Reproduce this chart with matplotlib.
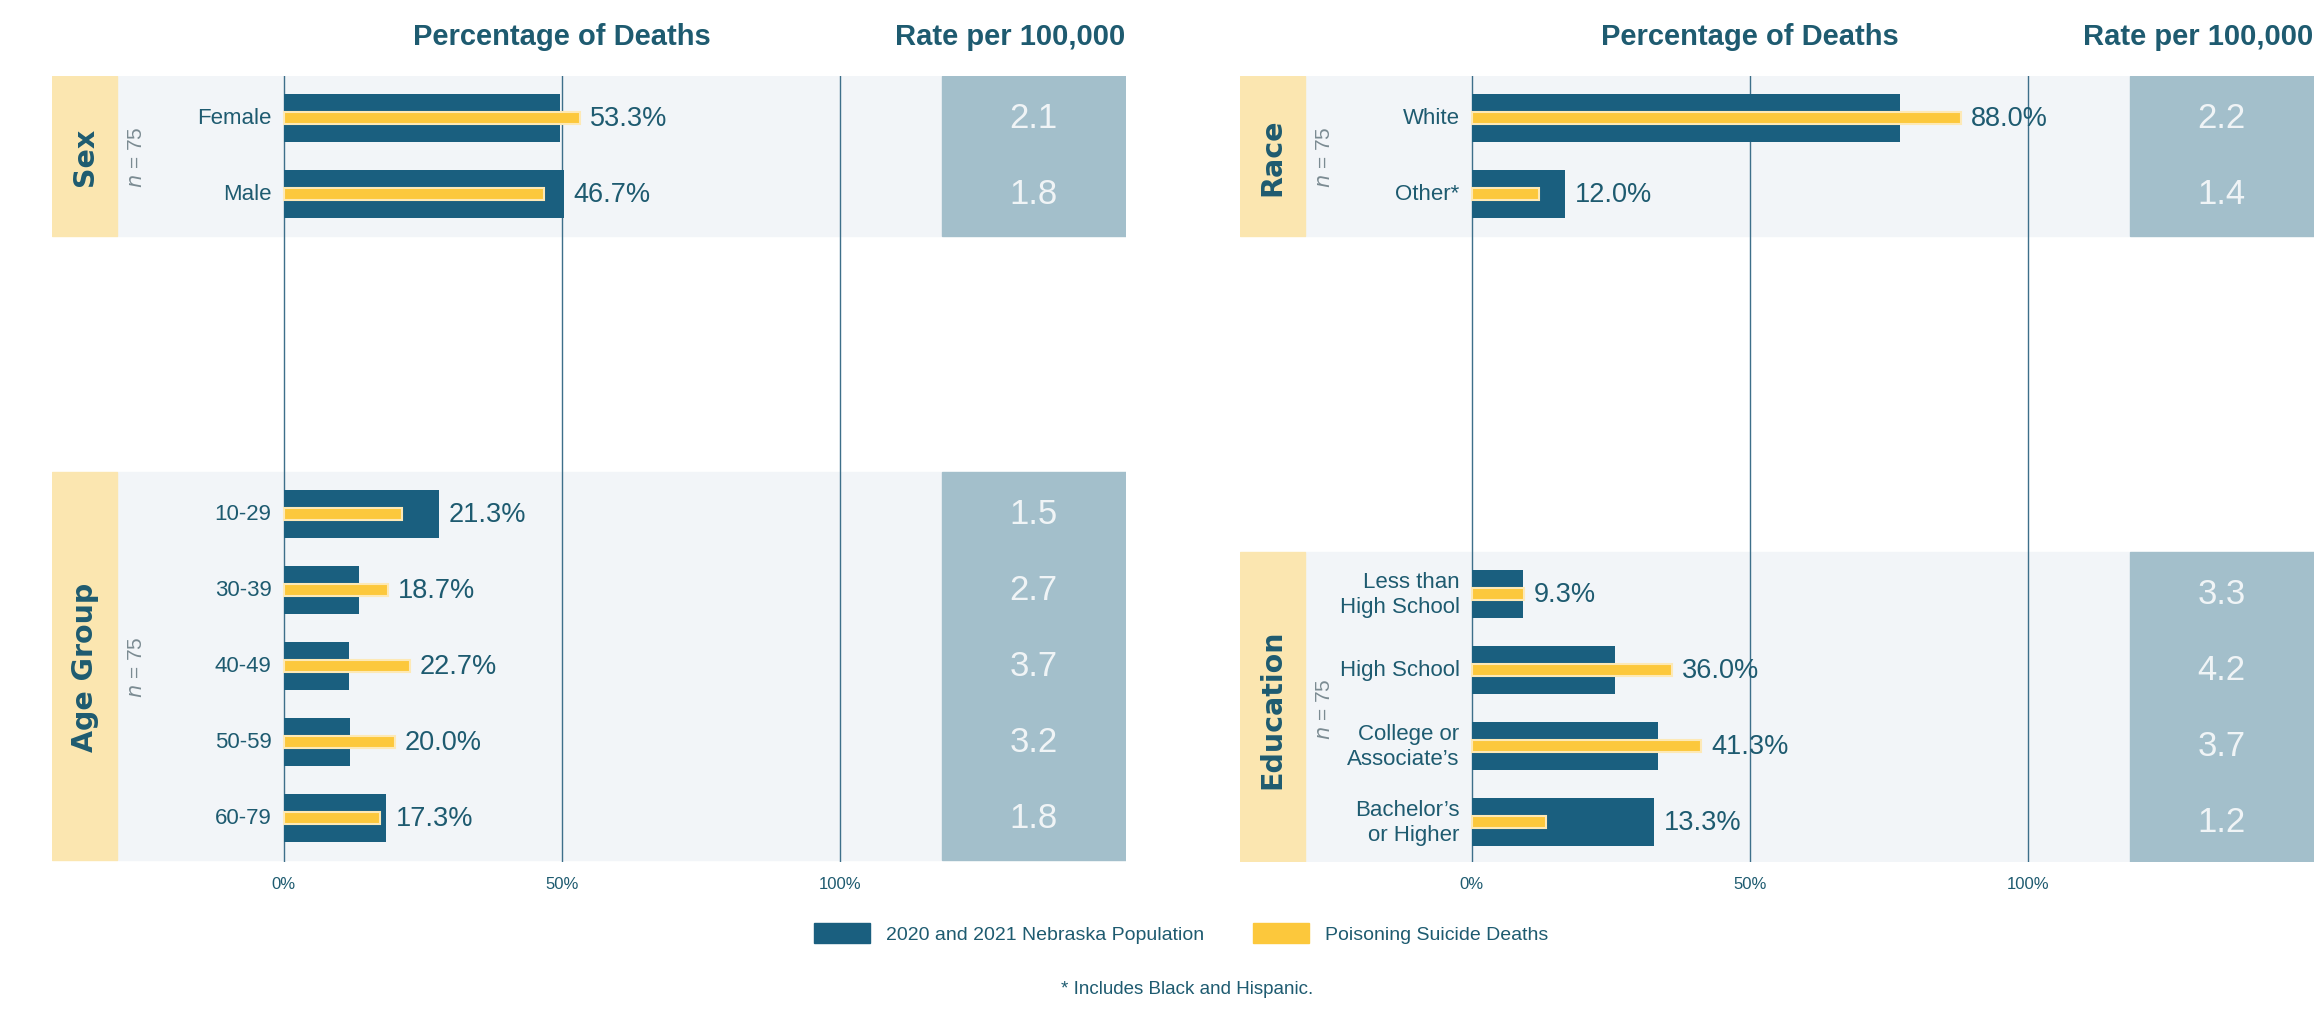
import matplotlib.pyplot as plt
import numpy as np
from matplotlib.patches import Rectangle

plt.rcParams['font.family'] = ['Liberation Sans', 'DejaVu Sans']

# ---- data ----
sex_labels = ['Female', 'Male']
sex_pop = [49.7, 50.3]
sex_deaths = [53.3, 46.7]
sex_rate = [2.1, 1.8]

age_labels = ['10-29', '30-39', '40-49', '50-59', '60-79']
age_pop = [27.9, 13.5, 11.7, 11.9, 18.3]
age_deaths = [21.3, 18.7, 22.7, 20.0, 17.3]
age_rate = [1.5, 2.7, 3.7, 3.2, 1.8]

race_labels = ['White', 'Other*']
race_pop = [77.0, 16.8]
race_deaths = [88.0, 12.0]
race_rate = [2.2, 1.4]

edu_labels = ['Less than\nHigh School', 'High School',
              'College or\nAssociate\u2019s', 'Bachelor\u2019s\nor Higher']
edu_pop = [9.2, 25.8, 33.4, 32.7]
edu_deaths = [9.3, 36.0, 41.3, 13.3]
edu_rate = [3.3, 4.2, 3.7, 1.2]

n_deaths = 75
ticks = [0, 50, 100]
tick_labels = ['0%', '50%', '100%']
legend_labels = ['2020 and 2021 Nebraska Population', 'Poisoning Suicide Deaths']
footnote = '* Includes Black and Hispanic.'

# ---- style ----
DARK = '#1a5f7f'
YELLOW = '#fcc83c'
STRIP = '#fbe6b0'
BG = '#f2f5f8'
RATEBOX = '#a3bfcb'
TEXT = '#1e5b70'
GRID = '#3d6f8a'

W, H = 2317, 1012
X0, X1 = -41.7, 151.4       # axis range in percent units
STRIP_R = -30.0
BOX_L = 118.3
Y_TOP, Y_BOT = 77, 863      # pixel rows covered by each axes
PAD, STEP = 42, 76          # row layout inside a block (pixels)

fig = plt.figure(figsize=(W / 100, H / 100), dpi=100)


def make_axes(left_px):
    width_px = (X1 - X0) * 5.56
    ax = fig.add_axes([left_px / W, (H - Y_BOT) / H, width_px / W, (Y_BOT - Y_TOP) / H])
    ax.set_xlim(X0, X1)
    ax.set_ylim(Y_BOT, Y_TOP)
    for s in ax.spines.values():
        s.set_visible(False)
    ax.set_yticks([])
    ax.set_xticks(ticks)
    ax.set_xticklabels(tick_labels, fontsize=12, color=TEXT)
    ax.tick_params(axis='x', length=0, pad=10)
    for t in ticks:
        ax.axvline(t, color=GRID, lw=1, zorder=2)
    ax.text(50, 37, 'Percentage of Deaths', ha='center', va='center',
            fontsize=21, fontweight='bold', color=TEXT)
    ax.text(X1, 37, 'Rate per 100,000', ha='right', va='center',
            fontsize=21, fontweight='bold', color=TEXT)
    return ax


def draw_block(ax, top, name, labels, pop, deaths, rates):
    n = len(labels)
    h = 2 * PAD + (n - 1) * STEP
    ax.add_patch(Rectangle((STRIP_R, top), BOX_L - STRIP_R, h, color=BG, zorder=0))
    ax.add_patch(Rectangle((X0, top), STRIP_R - X0, h, color=STRIP, zorder=1))
    ax.add_patch(Rectangle((BOX_L, top), X1 - BOX_L, h, color=RATEBOX, zorder=1))
    ys = top + PAD + STEP * np.arange(n)
    ax.barh(ys, pop, height=48, color=DARK, zorder=3)
    ax.barh(ys, deaths, height=12, color=YELLOW, edgecolor='#fde9b6', lw=1.5, zorder=4)
    for y, lab, p, d, r in zip(ys, labels, pop, deaths, rates):
        ax.text(-2.2, y, lab, ha='right', va='center', fontsize=16, color=TEXT)
        ax.text(max(p, d) + 1.8, y, f'{d:.1f}%', ha='left', va='center',
                fontsize=19.5, color=TEXT, zorder=5)
        ax.text((BOX_L + X1) / 2, y, f'{r:.1f}', ha='center', va='center',
                fontsize=25, color='#f0f4f6', zorder=5)
    yc = top + h / 2
    ax.text((X0 + STRIP_R) / 2, yc, name, rotation=90, ha='center', va='center',
            fontsize=20.5, fontweight='bold', color=TEXT, family='DejaVu Sans', zorder=5)
    ax.text(STRIP_R + 3.5, yc, f'$n$ = {n_deaths}', rotation=90, ha='center', va='center',
            fontsize=15, color='#7b8b92', zorder=5)


ax_l = make_axes(52)
draw_block(ax_l, 77, 'Sex', sex_labels, sex_pop, sex_deaths, sex_rate)
draw_block(ax_l, 473, 'Age Group', age_labels, age_pop, age_deaths, age_rate)

ax_r = make_axes(1240)
draw_block(ax_r, 77, 'Race', race_labels, race_pop, race_deaths, race_rate)
draw_block(ax_r, 553, 'Education', edu_labels, edu_pop, edu_deaths, edu_rate)

# legend
handles = [Rectangle((0, 0), 1, 1, color=DARK), Rectangle((0, 0), 1, 1, color=YELLOW)]
fig.legend(handles, legend_labels, loc='center', bbox_to_anchor=(1181 / W, 1 - 934 / H),
           ncol=2, frameon=False, fontsize=14, handlelength=2.9, handleheight=1.2,
           columnspacing=2.5, labelcolor=TEXT)

fig.text(1187 / W, 1 - 990 / H, footnote, ha='center', va='center', fontsize=13.5, color=TEXT)

fig.savefig('out.png', dpi=100, facecolor='white')
